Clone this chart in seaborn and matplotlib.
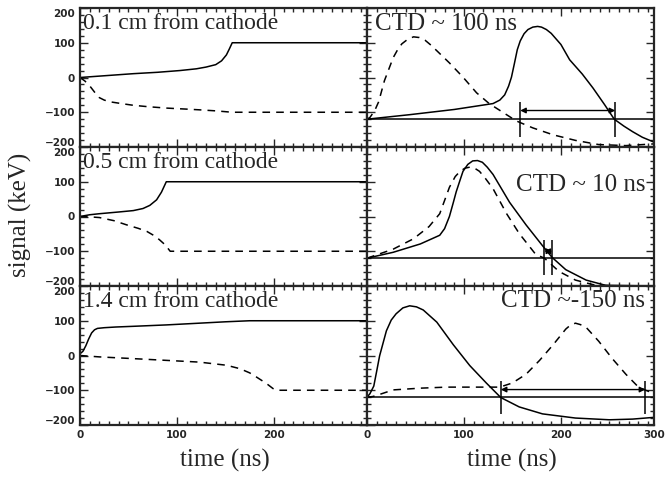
import numpy as np
import pandas as pd
import matplotlib
matplotlib.use('Agg')
import matplotlib.pyplot as plt
import seaborn as sns
from matplotlib.transforms import ScaledTranslation
from matplotlib.ticker import MultipleLocator

# ---- data: raw induced signals (left column) ----
t_a1 = [0, 10, 20, 40, 55, 80, 103, 120, 130, 140, 146, 151, 154, 157, 296]
sol_a1 = [0, 2, 4, 8, 11, 15, 20, 25, 30, 37, 48, 65, 82, 100, 100]
t_a1d = [0, 5, 10, 15, 20, 25, 31, 45, 55, 70, 89, 110, 123, 140, 157, 296]
das_a1 = [0, -10, -24, -42, -58, -65, -70, -76, -80, -84, -88, -91, -93, -96, -100, -100]

t_b1 = [0, 10, 20, 40, 55, 65, 72, 79, 84, 89, 296]
sol_b1 = [0, 5, 8, 13, 17, 23, 32, 48, 70, 100, 100]
t_b1d = [0, 10, 20, 35, 48, 60, 69, 77, 82, 88, 93, 296]
das_b1 = [0, -1, -3, -12, -24, -34, -43, -56, -67, -82, -100, -100]

t_c1 = [0, 3, 6, 9, 12, 15, 18, 25, 37, 55, 89, 123, 150, 175, 296]
sol_c1 = [5, 12, 28, 48, 65, 74, 78, 80, 82, 84, 88, 93, 97, 100, 100]
t_c1d = [0, 20, 55, 89, 123, 151, 165, 175, 182, 192, 199, 203, 296]
das_c1 = [0, -4, -9, -14, -19, -28, -38, -50, -62, -80, -95, -100, -100]

# ---- data: shaped signals (right column) ----
t_a2 = [0, 44, 90, 130, 137, 142, 146, 149, 152, 155, 158, 162, 166, 171, 176, 180, 185, 190,
        200, 209, 222, 233, 245, 255, 265, 274, 284, 296]
sol_a2 = [-120, -107, -92, -75, -65, -50, -25, 1, 40, 80, 105, 126, 138, 145, 147, 145, 138, 127,
          95, 51, 10, -30, -78, -120, -140, -156, -172, -186]
t_a2d = [0, 3, 8, 12, 18, 27, 32, 36, 42, 48, 54, 60, 66, 72, 85, 99, 113, 126, 140, 154,
         171, 192, 215, 239, 267, 296]
das_a2 = [-120, -115, -95, -70, -9, 57, 82, 97, 110, 117, 115, 107, 93, 77, 42, 1, -44, -75, -100, -125,
          -145, -165, -181, -193, -196, -191]

t_b2 = [0, 27, 55, 75, 80, 85, 89, 92, 96, 99, 104, 109, 114, 119, 124, 130, 147, 164, 181,
        191, 205, 226, 246, 296]
sol_b2 = [-120, -103, -79, -54, -35, 0, 40, 71, 105, 130, 150, 160, 161, 156, 142, 121, 41, -24, -84,
          -118, -153, -183, -198, -200]
t_b2d = [0, 27, 48, 64, 75, 85, 91, 96, 101, 106, 111, 116, 122, 130, 144, 157, 174, 183,
         198, 215, 233, 253, 296]
das_b2 = [-120, -94, -64, -29, 8, 84, 115, 130, 139, 142, 139, 130, 110, 80, 8, -49, -109, -120,
          -158, -183, -196, -200, -200]

t_c2 = [0, 3, 7, 10, 13, 20, 25, 30, 37, 44, 51, 58, 72, 89, 106, 123, 138, 157, 181, 215,
        250, 274, 296]
sol_c2 = [-120, -110, -88, -45, -1, 71, 102, 120, 137, 143, 140, 131, 96, 31, -29, -79, -121, -148,
          -168, -180, -185, -183, -178]
t_c2d = [0, 6, 13, 27, 55, 82, 109, 137, 150, 164, 178, 192, 205, 210, 215, 220, 226, 239,
         253, 267, 280, 291, 296]
das_c2 = [-120, -118, -112, -99, -94, -91, -91, -91, -79, -54, -14, 31, 76, 88, 93, 89, 81, 41,
          -9, -54, -91, -104, -108]

row_labels = ['0.1 cm from cathode', '0.5 cm from cathode', '1.4 cm from cathode']
ctd_labels = ['CTD ~ 100 ns', 'CTD ~ 10 ns', 'CTD ~-150 ns']
baseline = [-120, -120, -120]
ctd_start = [158, 183, 138]
ctd_end = [256, 191, 287]
arrow_y = [-95, -100, -98]
bar_lo = [-170, -168, -168]
bar_hi = [-70, -69, -74]

left_curves = [(t_a1, sol_a1, t_a1d, das_a1), (t_b1, sol_b1, t_b1d, das_b1), (t_c1, sol_c1, t_c1d, das_c1)]
right_curves = [(t_a2, sol_a2, t_a2d, das_a2), (t_b2, sol_b2, t_b2d, das_b2), (t_c2, sol_c2, t_c2d, das_c2)]

sns.set_style('ticks')
plt.rcParams['font.family'] = ['DejaVu Sans']
serif = 'Liberation Serif'

fig, axes = plt.subplots(3, 2, figsize=(6.66, 4.8), dpi=100)
fig.subplots_adjust(left=80/666, right=654/666, top=1-8/480, bottom=1-425/480, hspace=0, wspace=0)

dash = (0, (5, 4))
for r in range(3):
    for c in range(2):
        ax = axes[r, c]
        ts, ys, td, yd = (left_curves if c == 0 else right_curves)[r]
        sns.lineplot(x=ts, y=ys, ax=ax, color='black', lw=1.1)
        sns.lineplot(x=td, y=yd, ax=ax, color='black', lw=1.1, linestyle=dash)
        ax.set_xlim(0, 296)
        ax.set_ylim(-200, 200)
        ax.set_xticks([0, 100, 200])
        ax.set_yticks([-200, -100, 0, 100, 200])
        ax.xaxis.set_minor_locator(MultipleLocator(10))
        ax.yaxis.set_minor_locator(MultipleLocator(20))
        ax.tick_params(which='both', direction='in', top=True, right=True, width=1.0)
        ax.tick_params(which='major', length=6)
        ax.tick_params(which='minor', length=3)
        ax.tick_params(labelsize=7.5)
        for lab in ax.get_xticklabels() + ax.get_yticklabels():
            lab.set_fontweight('bold')
        for s in ax.spines.values():
            s.set_linewidth(1.6)
        ax.set_xlabel('')
        ax.set_ylabel('')
        if c == 1:
            ax.tick_params(labelleft=False)
        if r < 2:
            ax.tick_params(labelbottom=False)

        if c == 0:
            ax.text(3, 155, row_labels[r], family=serif, fontsize=17, va='center', ha='left')
            labs = ax.get_yticklabels()
            labs[0].set_transform(labs[0].get_transform() + ScaledTranslation(0, 3.5/72, fig.dpi_scale_trans))
            labs[-1].set_transform(labs[-1].get_transform() + ScaledTranslation(0, -3.5/72, fig.dpi_scale_trans))
        else:
            ax.axhline(baseline[r], color='black', lw=1.1)
            ax.vlines([ctd_start[r], ctd_end[r]], bar_lo[r], bar_hi[r], color='black', lw=1.1)
            ax.annotate('', xy=(ctd_end[r], arrow_y[r]), xytext=(ctd_start[r], arrow_y[r]),
                        arrowprops=dict(arrowstyle='<|-|>', color='black', lw=1.0,
                                        shrinkA=0, shrinkB=0, mutation_scale=8))
            if r == 0:
                ax.text(8, 155, ctd_labels[r], family=serif, fontsize=18, va='center', ha='left')
            elif r == 1:
                ax.text(287, 90, ctd_labels[r], family=serif, fontsize=18, va='center', ha='right')
            else:
                ax.text(287, 158, ctd_labels[r], family=serif, fontsize=18, va='center', ha='right')

# tick label 300 sits just past the right edge
axes[2, 1].text(296, -0.035, '300', transform=axes[2, 1].get_xaxis_transform(),
                ha='center', va='top', fontsize=7.5, fontweight='bold')

fig.text(20/666, 1-215/480, 'signal (keV)', family=serif, fontsize=18, rotation=90, va='center', ha='center')
fig.text(225/666, 1-460/480, 'time (ns)', family=serif, fontsize=18, va='center', ha='center')
fig.text(512/666, 1-460/480, 'time (ns)', family=serif, fontsize=18, va='center', ha='center')

plt.savefig('out.png', dpi=100)
